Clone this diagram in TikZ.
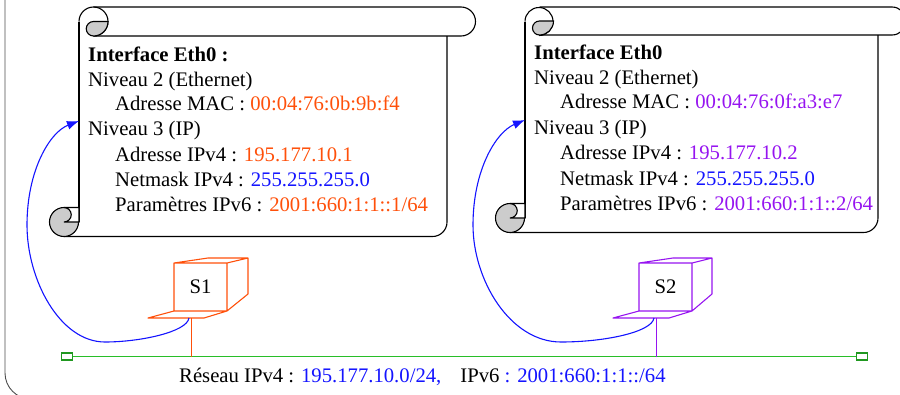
\documentclass[tikz,border=0pt]{standalone}
\usepackage{xcolor}
\usepackage{fontspec}
\setmainfont{Liberation Serif}
\usetikzlibrary{arrows.meta}
\definecolor{sonecolor}{RGB}{255, 80, 10}
\definecolor{stwocolor}{RGB}{150, 20, 240}
\definecolor{netcolor}{RGB}{20, 20, 255}
\definecolor{lancolor}{RGB}{40, 190, 40}
\definecolor{curlcolor}{RGB}{204, 204, 204}
\tikzset{
    frameline/.style={draw=black, line width=1.1pt},
    curlfill/.style={fill=curlcolor, draw=black, line width=1.1pt},
    notch/.style={fill=white, draw=black, line width=1.1pt},
    txt/.style={anchor=base west, inner sep=0pt, font=\fontsize{20.7}{22}\selectfont},
    hostlabel/.style={inner sep=0pt, font=\fontsize{20.7}{22}\selectfont},
    hostline/.style={line width=1.1pt, line join=round},
    lanend/.style={draw=lancolor!80!black, line width=1.1pt, fill=white, minimum width=11.5pt, minimum height=7pt, inner sep=0pt},
    link/.style={draw=netcolor, line width=1.1pt, -{Latex[length=12pt, width=9pt]}}
}
\begin{document}
\begin{tikzpicture}[x=1pt, y=-1pt]
    \clip (0, 0) rectangle (900, 394);
    \useasboundingbox (0, 0) rectangle (900, 394);

    % Outer frame
    \draw[draw=black!70, line width=0.9pt, rounded corners=26pt] (5, -30) -- (5, 399) -- (925, 399) -- (925, -30);

    % Left scroll
    \draw[frameline] (93.5, 7) -- (461, 7) arc (-90:90:14.5) -- (93.5, 36);
    \draw[frameline] (79, 21.5) -- (79, 222);
    \draw[frameline] (447, 36) -- (447, 222) arc (0:90:14.5) -- (64, 236.5);
    \draw[frameline] (79, 21.5) arc (180:450:14.5);
    \draw[curlfill] (108, 21.5) -- (93.5, 21.5) arc (-90:-270:7.25) arc (90:0:14.5) -- cycle;
    \draw[curlfill] (64, 222) circle (14.5);
    \draw[notch] (64, 207.5) arc (-90:90:7.25) -- (79, 222) -- (79, 207.5) -- cycle;

    \node[txt] (titleA) at (88, 61) {\textbf{Interface Eth0 :}};
    \node[txt] (levelAa) at (88, 86) {Niveau 2 (Ethernet)};
    \node[txt] (macA) at (115, 110.5) {Adresse MAC : \textcolor{sonecolor}{00:04:76:0b:9b:f4}};
    \node[txt] (levelAb) at (88, 135.5) {Niveau 3 (IP)};
    \node[txt] (ipA) at (115, 161) {Adresse IPv4 : \textcolor{sonecolor}{195.177.10.1}};
    \node[txt] (maskA) at (115, 186.5) {Netmask IPv4 : \textcolor{netcolor}{255.255.255.0}};
    \node[txt] (sixA) at (115, 211.5) {Paramètres IPv6 : \textcolor{sonecolor}{2001:660:1:1::1/64}};

    % Right scroll
    \draw[frameline] (539.5, 7) -- (892, 7) arc (-90:90:14) -- (539.5, 35);
    \draw[frameline] (525, 21.5) -- (525, 218);
    \draw[frameline] (878, 35) -- (878, 218) arc (0:90:14.5) -- (510, 232.5);
    \draw[frameline] (525, 21.5) arc (180:450:14);
    \draw[curlfill] (553.5, 21) -- (539.5, 21) arc (-90:-270:7) arc (90:0:14) -- cycle;
    \draw[curlfill] (510, 218) circle (14.5);
    \draw[notch] (510, 203.5) arc (-90:90:7.25) -- (525, 218) -- (525, 203.5) -- cycle;

    \node[txt] (titleB) at (534, 59.5) {\textbf{Interface Eth0}};
    \node[txt] (levelBa) at (534, 84) {Niveau 2 (Ethernet)};
    \node[txt] (macB) at (560, 108.5) {Adresse MAC : \textcolor{stwocolor}{00:04:76:0f:a3:e7}};
    \node[txt] (levelBb) at (534, 134) {Niveau 3 (IP)};
    \node[txt] (ipB) at (560, 159.5) {Adresse IPv4 : \textcolor{stwocolor}{195.177.10.2}};
    \node[txt] (maskB) at (560, 185) {Netmask IPv4 : \textcolor{netcolor}{255.255.255.0}};
    \node[txt] (sixB) at (560, 210) {Paramètres IPv6 : \textcolor{stwocolor}{2001:660:1:1::2/64}};

    % Hosts
    \draw[hostline, sonecolor] (174, 263) rectangle (227, 311)
        (174, 263) -- (208, 258) -- (248, 258) -- (227, 263)
        (248, 258) -- (248, 294) -- (227, 311)
        (174, 311) -- (148, 318) -- (204, 318) -- (227, 311);
    \node[hostlabel] (S1) at (200.5, 287) {S1};
    \draw[hostline, stwocolor] (639, 263) rectangle (692, 311)
        (639, 263) -- (673, 258) -- (712, 258) -- (692, 263)
        (712, 258) -- (712, 294) -- (692, 311)
        (639, 311) -- (613, 318) -- (669, 318) -- (692, 311);
    \node[hostlabel] (S2) at (665.5, 287) {S2};

    % Network
    \node[lanend] (lanA) at (67, 356.5) {};
    \node[lanend] (lanB) at (862, 356.5) {};
    \draw[draw=lancolor, line width=1.1pt] (lanA) -- (lanB);

    \coordinate (tapA) at (191.5, 356.5);
    \coordinate (tapB) at (656.5, 356.5);
    \coordinate (stemA) at (191.5, 318);
    \coordinate (stemB) at (656.5, 318);
    \draw[hostline, sonecolor] (stemA) -- (tapA);
    \draw[hostline, stwocolor] (stemB) -- (tapB);

    % Links to the scrolls
    \coordinate (portA) at (189, 318);
    \coordinate (portB) at (654, 318);
    \coordinate (inA) at (79, 121);
    \coordinate (inB) at (525, 120);
    \draw[link] (portA) .. controls (187, 332) and (140, 342) .. (105, 342)
        .. controls (60, 342) and (27, 280) .. (27, 225)
        .. controls (27, 170) and (50, 132) .. (inA);
    \draw[link] (portB) .. controls (652, 332) and (605, 342) .. (561, 342)
        .. controls (510, 342) and (473, 280) .. (473, 225)
        .. controls (473, 170) and (496, 132) .. (inB);

    \node[txt] (netlabel) at (179, 382) {Réseau IPv4 : \textcolor{netcolor}{195.177.10.0/24,}\ \ \ \,IPv6 \textcolor{netcolor}{: 2001:660:1:1::/64}};
\end{tikzpicture}
\end{document}
